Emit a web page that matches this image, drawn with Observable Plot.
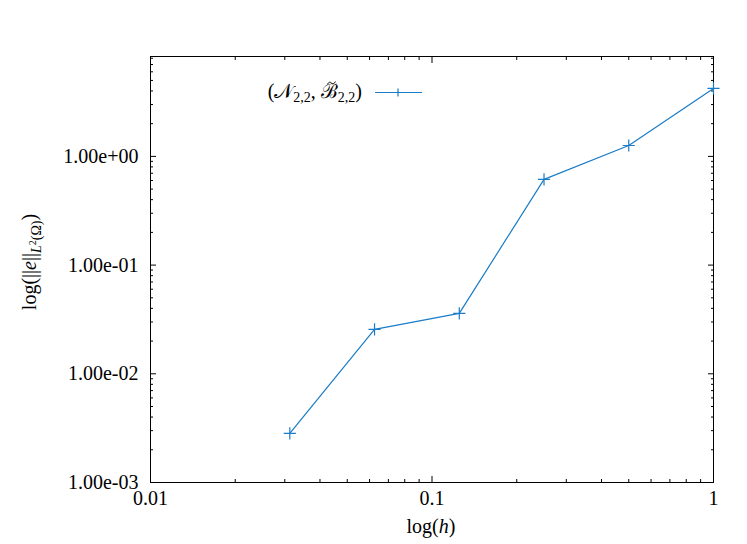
<!DOCTYPE html>
<html><head><meta charset="utf-8">
<script src="https://cdn.jsdelivr.net/npm/d3@7"></script>
<script src="https://cdn.jsdelivr.net/npm/@observablehq/plot@0.6"></script>
<style>html,body{margin:0;padding:0;background:#fff} svg{display:block}</style>
</head><body><div id="chart"></div>
<script>
// mesh size h and L2 error
const h = [0.03125, 0.0625, 0.125, 0.25, 0.5, 1];
const err = [0.00283, 0.0256, 0.036, 0.614, 1.26, 4.22];
const xMajor = [0.01, 0.1, 1];
const xTickLabels = ["0.01", "0.1", "1"];
const xMinor = [0.02, 0.03, 0.04, 0.05, 0.06, 0.07, 0.08, 0.09, 0.2, 0.3, 0.4, 0.5, 0.6, 0.7, 0.8, 0.9];
const yMajor = [0.001, 0.01, 0.1, 1];
const yTickLabels = ["1.00e-03", "1.00e-02", "1.00e-01", "1.00e+00"];
const yMinor = [0.002, 0.003, 0.004, 0.005, 0.006, 0.007, 0.008, 0.009,
  0.02, 0.03, 0.04, 0.05, 0.06, 0.07, 0.08, 0.09,
  0.2, 0.3, 0.4, 0.5, 0.6, 0.7, 0.8, 0.9,
  2, 3, 4, 5, 6, 7, 8];

const data = h.map((v, i) => ({h: v, e: err[i]}));
const blue = "#1a7cc6";
const font = "'Liberation Serif', 'DejaVu Serif', serif";

const plot = Plot.plot({
  width: 747, height: 544,
  marginLeft: 150, marginRight: 34, marginTop: 56, marginBottom: 62,
  style: {fontFamily: font, fontSize: "20px", color: "black", background: "white"},
  x: {type: "log", domain: [0.01, 1]},
  y: {type: "log", domain: [0.001, 8.3]},
  marks: [
    Plot.axisX(xMajor, {anchor: "bottom", tickSize: -6, tickPadding: 14, tickFormat: d => xTickLabels[xMajor.indexOf(d)], label: null}),
    Plot.axisX(xMinor, {anchor: "bottom", tickSize: -3, fill: "none", label: null}),
    Plot.axisX(xMajor, {anchor: "top", tickSize: -6, fill: "none", label: null}),
    Plot.axisX(xMinor, {anchor: "top", tickSize: -3, fill: "none", label: null}),
    Plot.axisY(yMajor, {anchor: "left", tickSize: -6, tickPadding: 18, tickFormat: d => yTickLabels[yMajor.indexOf(d)], label: null}),
    Plot.axisY(yMinor, {anchor: "left", tickSize: -3, fill: "none", label: null}),
    Plot.axisY(yMajor, {anchor: "right", tickSize: -6, fill: "none", label: null}),
    Plot.axisY(yMinor, {anchor: "right", tickSize: -3, fill: "none", label: null}),
    Plot.frame({stroke: "black"}),
    Plot.line(data, {x: "h", y: "e", stroke: blue, strokeWidth: 1.2}),
    Plot.dot(data, {x: "h", y: "e", symbol: "plus", r: 4, stroke: blue, strokeWidth: 1.2})
  ]
});
document.getElementById("chart").appendChild(plot);

const svg = d3.select(plot);
// y label
const yl = svg.append("text")
  .attr("transform", "translate(36,262) rotate(-90)")
  .attr("text-anchor", "middle")
  .attr("font-family", font).attr("font-size", 20).attr("fill", "black");
yl.append("tspan").text("log(||");
yl.append("tspan").attr("font-style", "italic").text("e");
yl.append("tspan").text("||");
yl.append("tspan").attr("font-style", "italic").attr("font-size", 14).attr("dy", 5).text("L");
yl.append("tspan").attr("font-size", 10).attr("dy", -5).text("2");
yl.append("tspan").attr("font-size", 14).attr("dy", 5).text("(Ω)");
yl.append("tspan").attr("dy", -5).text(")");

// x label
const xl = svg.append("text")
  .attr("x", 431).attr("y", 533)
  .attr("text-anchor", "middle")
  .attr("font-family", font).attr("font-size", 20).attr("fill", "black");
xl.append("tspan").text("log(");
xl.append("tspan").attr("font-style", "italic").text("h");
xl.append("tspan").text(")");

// legend
const lg = svg.append("text")
  .attr("x", 362).attr("y", 98)
  .attr("text-anchor", "end")
  .attr("font-family", font).attr("font-size", 20).attr("fill", "black");
lg.append("tspan").text("(");
lg.append("tspan").text("\u{1D4A9}");
lg.append("tspan").attr("font-size", 14).attr("dy", 4).text("2,2");
lg.append("tspan").attr("dy", -4).text(", ");
const bT = lg.append("tspan").text("\u212C");
lg.append("tspan").attr("font-size", 14).attr("dy", 4).text("2,2");
lg.append("tspan").attr("dy", -4).text(")");
// tilde accent over the B, drawn as a small path
try {
  const r = bT.node().getExtentOfChar(0);
  const cx = r.x + r.width * 0.62, cy = r.y + 3;
  svg.append("path")
    .attr("d", `M${cx - 4},${cy + 1.5} C${cx - 2.5},${cy - 1.5} ${cx - 1},${cy - 1} ${cx},${cy} S${cx + 2.5},${cy + 1.5} ${cx + 4},${cy - 1.5}`)
    .attr("fill", "none").attr("stroke", "black").attr("stroke-width", 1);
} catch (e) {}
svg.append("line").attr("x1", 375).attr("x2", 422).attr("y1", 92.5).attr("y2", 92.5)
  .attr("stroke", blue).attr("stroke-width", 1.2);
svg.append("path").attr("d", "M394,92.5H402M398,88.5V96.5")
  .attr("stroke", blue).attr("stroke-width", 1.2).attr("fill", "none");
</script>
</body></html>
